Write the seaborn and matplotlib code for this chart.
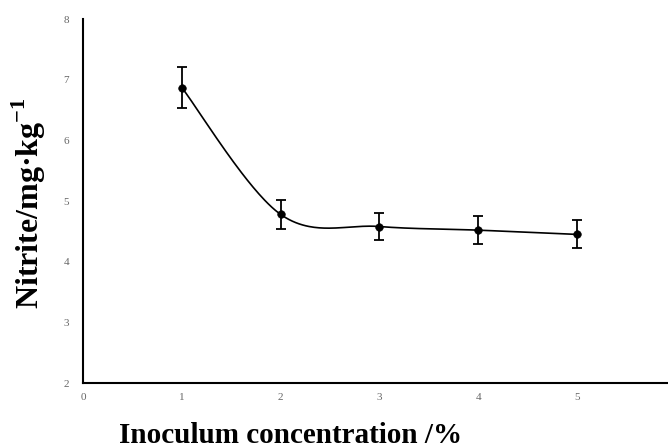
import numpy as np
import pandas as pd
import matplotlib
matplotlib.use('Agg')
import matplotlib.pyplot as plt
import seaborn as sns

# 数据
concentration = [1, 2, 3, 4, 5]
nitrite = [6.87, 4.78, 4.58, 4.52, 4.45]
nitrite_err = [0.34, 0.24, 0.23, 0.23, 0.23]

x_ticks = [0, 1, 2, 3, 4, 5]
y_ticks = [2, 3, 4, 5, 6, 7, 8]

df = pd.DataFrame({'x': concentration, 'y': nitrite, 'err': nitrite_err})


def smooth_curve(xs, ys, n=60):
    # 类似Excel的平滑线 (Catmull-Rom -> Bezier)
    xs = np.asarray(xs, float)
    ys = np.asarray(ys, float)
    px = np.concatenate([[xs[0]], xs, [xs[-1]]])
    py = np.concatenate([[ys[0]], ys, [ys[-1]]])
    out_x, out_y = [], []
    t = np.linspace(0, 1, n)
    for i in range(1, len(px) - 2):
        x0, y0 = px[i], py[i]
        x3, y3 = px[i + 1], py[i + 1]
        x1 = x0 + (px[i + 1] - px[i - 1]) / 6
        y1 = y0 + (py[i + 1] - py[i - 1]) / 6
        x2 = x3 - (px[i + 2] - px[i]) / 6
        y2 = y3 - (py[i + 2] - py[i]) / 6
        bx = (1 - t) ** 3 * x0 + 3 * (1 - t) ** 2 * t * x1 + 3 * (1 - t) * t ** 2 * x2 + t ** 3 * x3
        by = (1 - t) ** 3 * y0 + 3 * (1 - t) ** 2 * t * y1 + 3 * (1 - t) * t ** 2 * y2 + t ** 3 * y3
        out_x.extend(bx)
        out_y.extend(by)
    return np.array(out_x), np.array(out_y)


sns.set_style('white')
plt.rcParams['mathtext.fontset'] = 'custom'
plt.rcParams['mathtext.rm'] = 'Liberation Serif'
plt.rcParams['mathtext.bf'] = 'Liberation Serif:bold'

fig = plt.figure(figsize=(6.68, 4.48), dpi=100)
ax = fig.add_axes([0.1243, 0.145, 0.874, 0.8125])

sx, sy = smooth_curve(df['x'], df['y'])
curve = pd.DataFrame({'x': sx, 'y': sy})
sns.lineplot(data=curve, x='x', y='y', sort=False, estimator=None, color='black', linewidth=1.2, ax=ax)

ax.errorbar(df['x'], df['y'], yerr=df['err'], fmt='none', ecolor='black',
            elinewidth=1.3, capsize=3.8, capthick=1.3, zorder=3)
sns.scatterplot(data=df, x='x', y='y', color='black', s=30, edgecolor='black', zorder=4, ax=ax)

ax.set_xlim(0, 5.91)
ax.set_ylim(2, 8)
ax.set_xticks(x_ticks)
ax.set_yticks(y_ticks)

for side in ['top', 'right']:
    ax.spines[side].set_visible(False)
for side in ['left', 'bottom']:
    ax.spines[side].set_color('black')
    ax.spines[side].set_linewidth(1.5)

ax.tick_params(axis='both', direction='in', length=4, width=1.2, color='black',
               labelsize=8, labelcolor='#666666')
ax.tick_params(axis='y', pad=10)
ax.tick_params(axis='x', pad=7)
for lab in ax.get_xticklabels() + ax.get_yticklabels():
    lab.set_family('Liberation Serif')

ax.set_xlabel('Inoculum concentration /%', fontsize=21, fontweight='bold',
              family='Liberation Serif', color='black')
ax.xaxis.set_label_coords(0.356, -0.107)
ax.set_ylabel(r'Nitrite/mg·kg$^{\mathbf{-1}}$', fontsize=23, fontweight='bold',
              family='Liberation Serif', color='black')
ax.yaxis.set_label_coords(-0.06, 0.495)

plt.savefig('out.png', dpi=100)
plt.close()
